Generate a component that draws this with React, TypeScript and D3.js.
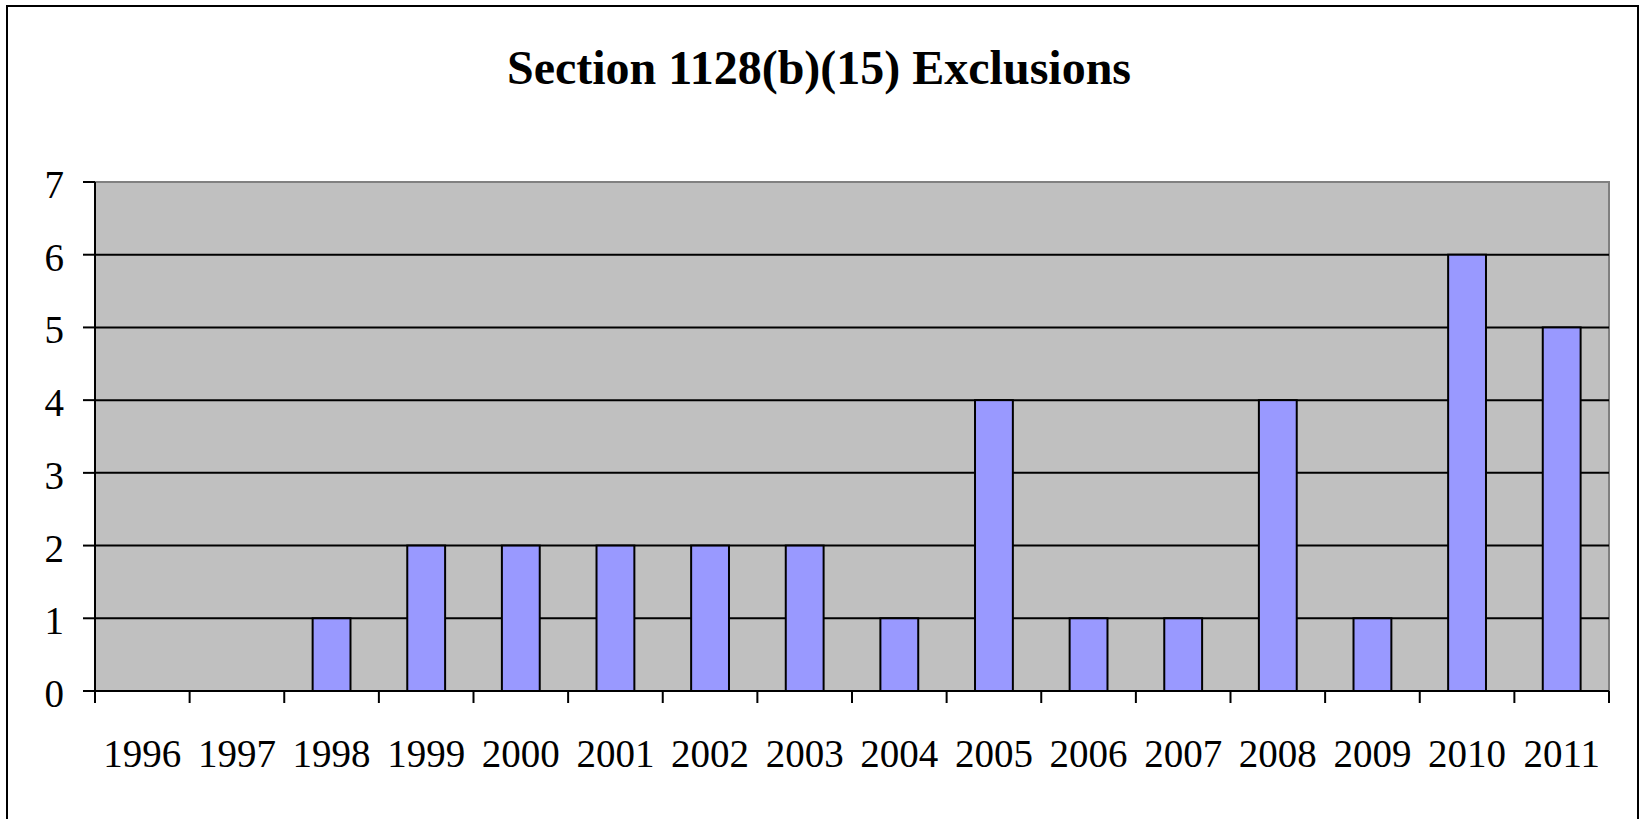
import React from "react";
import * as d3 from "d3";

const years = ["1996","1997","1998","1999","2000","2001","2002","2003","2004","2005","2006","2007","2008","2009","2010","2011"];
const exclusions = [0,0,1,2,2,2,2,2,1,4,1,1,4,1,6,5];
const yTicks = [0,1,2,3,4,5,6,7];
const title = "Section 1128(b)(15) Exclusions";

const W = 1640, H = 819;
const plot = { left: 95, right: 1609, top: 182, bottom: 691 };

export default function App() {
  const x = d3.scaleBand<string>().domain(years).range([plot.left, plot.right]).paddingInner(0.6).paddingOuter(0.3);
  const xb = d3.scaleBand<string>().domain(years).range([plot.left, plot.right]);
  const y = d3.scaleLinear().domain([0, 7]).range([plot.bottom, plot.top]);
  const font = "'Liberation Serif', 'Times New Roman', serif";
  return (
    <div style={{ position: "absolute", left: 0, top: 0 }}>
      <svg width={W} height={H} style={{ display: "block" }}>
        <rect x={0} y={0} width={W} height={H} fill="#fff" />
        <rect x={7} y={6} width={1631} height={830} fill="none" stroke="#000" strokeWidth={2} />
        <text x={819} y={84} textAnchor="middle" fontFamily={font} fontWeight="bold" fontSize={48}>{title}</text>
        <rect x={plot.left} y={plot.top} width={plot.right - plot.left} height={plot.bottom - plot.top} fill="#c0c0c0" stroke="#808080" strokeWidth={2} />
        {yTicks.filter(t => t > 0 && t < 7).map(t => (
          <line key={"g" + t} x1={plot.left} x2={plot.right} y1={y(t)} y2={y(t)} stroke="#000" strokeWidth={2} />
        ))}
        {years.map((yr, i) => exclusions[i] > 0 ? (
          <rect key={yr} x={x(yr)} y={y(exclusions[i])} width={x.bandwidth()} height={plot.bottom - y(exclusions[i])} fill="#9999ff" stroke="#000" strokeWidth={2} />
        ) : null)}
        <line x1={plot.left} x2={plot.left} y1={plot.top} y2={plot.bottom} stroke="#000" strokeWidth={2} />
        <line x1={plot.left} x2={plot.right} y1={plot.bottom} y2={plot.bottom} stroke="#000" strokeWidth={2} />
        {yTicks.map(t => (
          <g key={"y" + t}>
            <line x1={83} x2={plot.left} y1={y(t)} y2={y(t)} stroke="#000" strokeWidth={2} />
            <text x={64} y={y(t) + 16} textAnchor="end" fontFamily={font} fontSize={39}>{t}</text>
          </g>
        ))}
        {[...years.map(yr => xb(yr) as number), plot.right].map((px, i) => (
          <line key={"xt" + i} x1={px} x2={px} y1={plot.bottom} y2={703} stroke="#000" strokeWidth={2} />
        ))}
        {years.map(yr => (
          <text key={"xl" + yr} x={(xb(yr) as number) + xb.bandwidth() / 2} y={767} textAnchor="middle" fontFamily={font} fontSize={39}>{yr}</text>
        ))}
      </svg>
    </div>
  );
}
